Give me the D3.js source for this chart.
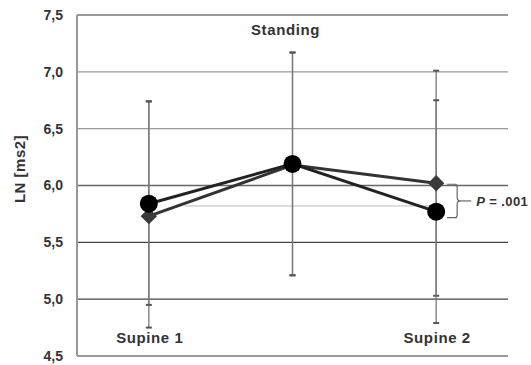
<!DOCTYPE html>
<html>
<head>
<meta charset="utf-8">
<script src="https://cdn.jsdelivr.net/npm/d3@7"></script>
<style>
  body { margin: 0; background: #fff; }
  svg text { font-family: "Liberation Sans", Arial, sans-serif; font-weight: bold; fill: #333; }
</style>
</head>
<body>
<div id="chart"></div>
<script>
// conditions
const conditions = ['Supine 1', 'Standing', 'Supine 2'];

// circle series (mean, error bar low / high)
const circleMean = [5.84, 6.19, 5.77];
const circleLow  = [4.95, 5.21, 4.79];
const circleHigh = [6.74, 7.17, 6.75];

// diamond series
const diamondMean = [5.73, 6.18, 6.02];
const diamondLow  = [4.75, 5.21, 5.03];
const diamondHigh = [6.74, 7.17, 7.01];

// y axis ticks
const yTicks = [4.5, 5.0, 5.5, 6.0, 6.5, 7.0, 7.5];
const refValue = 5.82;
const pLabel = '= .001';

const width = 531, height = 365;
const margin = { top: 15, right: 23, bottom: 9, left: 77 };

const svg = d3.select('#chart')
    .append('svg')
    .attr('width', width)
    .attr('height', height);

const x = d3.scalePoint()
    .domain(conditions)
    .range([margin.left, width - margin.right])
    .padding(0.5);

const y = d3.scaleLinear()
    .domain([4.5, 7.5])
    .range([height - margin.bottom, margin.top]);

// grid lines
const gridColor = v => (v >= 6.5 || v === 4.5) ? '#999' : (v === 6.0 ? '#666' : '#444');
svg.selectAll('line.grid')
    .data(yTicks)
    .enter()
    .append('line')
    .attr('x1', margin.left)
    .attr('x2', width - margin.right)
    .attr('y1', d => y(d))
    .attr('y2', d => y(d))
    .attr('stroke', d => gridColor(d))
    .attr('stroke-width', d => (d === 7.5 || d === 4.5) ? 2 : 1.3);

// left axis line
svg.append('line')
    .attr('x1', margin.left).attr('x2', margin.left)
    .attr('y1', y(7.5)).attr('y2', y(4.5))
    .attr('stroke', '#999')
    .attr('stroke-width', 2);

// reference line
svg.append('line')
    .attr('x1', x('Supine 1') + 36)
    .attr('x2', x('Supine 2'))
    .attr('y1', y(refValue))
    .attr('y2', y(refValue))
    .attr('stroke', '#bbb')
    .attr('stroke-width', 1);

// y tick labels
const yAxis = d3.axisLeft(y)
    .tickValues(yTicks)
    .tickSize(0)
    .tickPadding(14)
    .tickFormat(d => d3.format('.1f')(d).replace('.', ','));

const gy = svg.append('g')
    .attr('transform', `translate(${margin.left},0)`)
    .call(yAxis);
gy.select('.domain').remove();
gy.selectAll('text')
    .attr('font-size', 14)
    .attr('font-family', '"Liberation Sans", Arial, sans-serif')
    .attr('font-weight', 'bold')
    .attr('fill', '#333');

// y axis title
svg.append('text')
    .attr('transform', `translate(25,169) rotate(-90)`)
    .attr('text-anchor', 'middle')
    .attr('font-size', 15)
    .attr('letter-spacing', 0.5)
    .text('LN [ms2]');

// error bars
function errorBars(low, high) {
    conditions.forEach((c, i) => {
        const g = svg.append('g').attr('stroke', '#777').attr('stroke-width', 1.3);
        g.append('line')
            .attr('x1', x(c)).attr('x2', x(c))
            .attr('y1', y(high[i])).attr('y2', y(low[i]));
        [low[i], high[i]].forEach(v => {
            g.append('line')
                .attr('x1', x(c) - 3).attr('x2', x(c) + 3)
                .attr('y1', y(v)).attr('y2', y(v))
                .attr('stroke', '#555')
                .attr('stroke-width', 2);
        });
    });
}
errorBars(diamondLow, diamondHigh);
errorBars(circleLow, circleHigh);

// series lines
const line = d3.line()
    .x((d, i) => x(conditions[i]))
    .y(d => y(d));

svg.append('path')
    .datum(diamondMean)
    .attr('d', line)
    .attr('fill', 'none')
    .attr('stroke', '#333')
    .attr('stroke-width', 3);

svg.append('path')
    .datum(circleMean)
    .attr('d', line)
    .attr('fill', 'none')
    .attr('stroke', '#222')
    .attr('stroke-width', 3);

// markers
svg.selectAll('path.diamond')
    .data(diamondMean)
    .enter()
    .append('path')
    .attr('d', d3.symbol().type(d3.symbolDiamond2).size(170))
    .attr('transform', (d, i) => `translate(${x(conditions[i])},${y(d)})`)
    .attr('fill', '#3a3a3a');

svg.selectAll('circle.pt')
    .data(circleMean)
    .enter()
    .append('circle')
    .attr('cx', (d, i) => x(conditions[i]))
    .attr('cy', d => y(d))
    .attr('r', 9)
    .attr('fill', '#000');

// category labels
const labelY = { 'Supine 1': 343, 'Standing': 35, 'Supine 2': 343 };
svg.selectAll('text.cat')
    .data(conditions)
    .enter()
    .append('text')
    .attr('x', (d, i) => x(d) + (i === 1 ? -7 : 1))
    .attr('y', d => labelY[d])
    .attr('text-anchor', 'middle')
    .attr('font-size', 15)
    .attr('letter-spacing', 0.6)
    .text(d => d);

// significance bracket
const bx = x('Supine 2') + 21;
const yTop = y(diamondMean[2]) + 1;
const yBot = y(circleMean[2]) + 6;
const yMid = (yTop + yBot) / 2;
svg.append('rect')
    .attr('x', bx + 14).attr('y', yMid - 9)
    .attr('width', 80).attr('height', 18)
    .attr('fill', '#fff');
svg.append('path')
    .attr('d', `M${bx - 10},${yTop} L${bx - 2},${yTop} Q${bx},${yTop} ${bx},${yTop + 3}
                L${bx},${yMid - 3} Q${bx},${yMid} ${bx + 4},${yMid}
                Q${bx},${yMid} ${bx},${yMid + 3} L${bx},${yBot - 3}
                Q${bx},${yBot} ${bx - 2},${yBot} L${bx - 10},${yBot}`)
    .attr('fill', 'none')
    .attr('stroke', '#666')
    .attr('stroke-width', 1.2);
svg.append('line')
    .attr('x1', bx + 4).attr('x2', bx + 14)
    .attr('y1', yMid).attr('y2', yMid)
    .attr('stroke', '#666').attr('stroke-width', 1.2);

const pText = svg.append('text')
    .attr('x', bx + 19)
    .attr('y', yMid + 5)
    .attr('font-size', 13)
    .attr('letter-spacing', 0.4);
pText.append('tspan').attr('font-style', 'italic').text('P');
pText.append('tspan').text(' ' + pLabel);
</script>
</body>
</html>
